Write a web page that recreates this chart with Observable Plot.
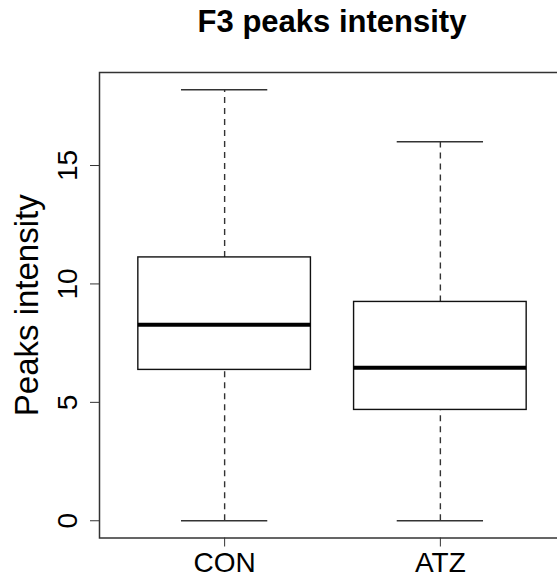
<!DOCTYPE html>
<html>
<head>
<meta charset="utf-8">
<script src="https://cdn.jsdelivr.net/npm/d3@7"></script>
<script src="https://cdn.jsdelivr.net/npm/@observablehq/plot@0.6"></script>
<style>
  html, body { margin: 0; padding: 0; background: white; overflow: hidden; }
  #wrap { width: 557px; height: 577px; position: relative; }
  #title {
    height: 48px; line-height: 44px; margin-left: 99px; width: 466px;
    text-align: center; font-family: "Liberation Sans", Arial, sans-serif;
    font-weight: bold; font-size: 31px; color: #000; white-space: nowrap;
  }
</style>
</head>
<body>
<div id="wrap">
  <div id="title">F3 peaks intensity</div>
  <div id="chart"></div>
</div>
<script>
const categories = ["CON", "ATZ"];
const whiskerLow = [0, 0];
const lowerQuartile = [6.37, 4.68];
const median = [8.28, 6.46];
const upperQuartile = [11.12, 9.24];
const whiskerHigh = [18.2, 16.0];
const yTicks = [0, 5, 10, 15];
const yLabel = "Peaks intensity";

const rows = categories.map((c, i) => ({
  name: c, pos: i + 1,
  lo: whiskerLow[i], q1: lowerQuartile[i], med: median[i], q3: upperQuartile[i], hi: whiskerHigh[i]
}));

const [dmin, dmax] = d3.extent([...whiskerLow, ...whiskerHigh]);
const pad = (dmax - dmin) * 0.04;
const xPad = categories.length * 0.04;

const font = '"Liberation Sans", Arial, sans-serif';
const boxHalf = 0.4, capHalf = 0.2;

const chart = Plot.plot({
  width: 557,
  height: 529,
  marginLeft: 99,
  marginRight: -8,
  marginTop: 24,
  marginBottom: 39.5,
  style: { fontFamily: font, fontSize: "28px", color: "#000", background: "white", overflow: "hidden" },
  x: { type: "linear", domain: [0.5 - xPad, categories.length + 0.5 + xPad] },
  y: { domain: [dmin - pad, dmax + pad] },
  marks: [
    // whiskers (dashed)
    Plot.ruleX(rows, { x: "pos", y1: "q3", y2: "hi", stroke: "#333", strokeWidth: 1.4, strokeDasharray: "6,5" }),
    Plot.ruleX(rows, { x: "pos", y1: "lo", y2: "q1", stroke: "#333", strokeWidth: 1.4, strokeDasharray: "6,5" }),
    // caps
    Plot.ruleY(rows, { y: "hi", x1: d => d.pos - capHalf, x2: d => d.pos + capHalf, stroke: "#333", strokeWidth: 1.5 }),
    Plot.ruleY(rows, { y: "lo", x1: d => d.pos - capHalf, x2: d => d.pos + capHalf, stroke: "#333", strokeWidth: 1.5 }),
    // boxes
    Plot.rect(rows, { x1: d => d.pos - boxHalf, x2: d => d.pos + boxHalf, y1: "q1", y2: "q3", fill: "white", stroke: "#111", strokeWidth: 1.4 }),
    // medians
    Plot.ruleY(rows, { y: "med", x1: d => d.pos - boxHalf, x2: d => d.pos + boxHalf, stroke: "#000", strokeWidth: 4 }),
    Plot.frame({ stroke: "#333", strokeWidth: 1.5 }),
    Plot.axisY(yTicks, { tickSize: 9, tickPadding: 14, tickRotate: -90, textAnchor: "middle", lineAnchor: "bottom",
      fontSize: 28, stroke: "#333", fill: "#000", label: null }),
    Plot.axisX([1, 2], { tickSize: 9, tickPadding: 5, tickFormat: d => categories[d - 1],
      fontSize: 28, stroke: "#333", fill: "#000", label: null }),
    Plot.text([yLabel], { frameAnchor: "left", rotate: -90, dx: -62, lineAnchor: "bottom", textAnchor: "middle",
      fontSize: 33, fill: "#000" })
  ]
});
document.getElementById("chart").appendChild(chart);
</script>
</body>
</html>
